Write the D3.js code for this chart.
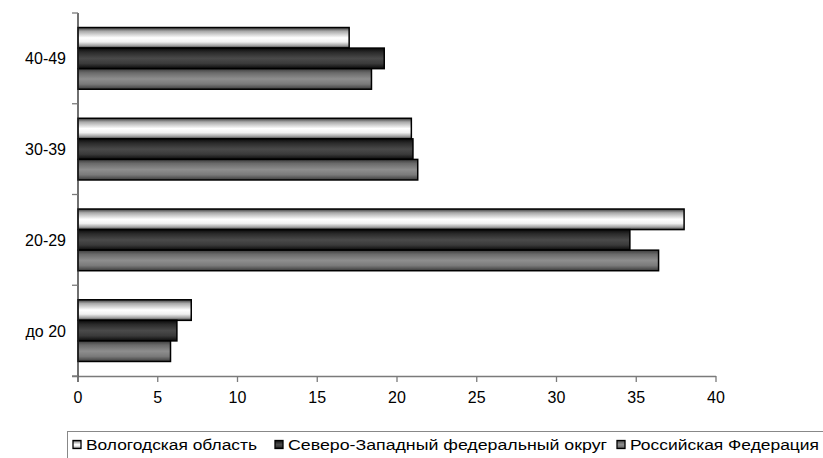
<!DOCTYPE html>
<html><head><meta charset="utf-8">
<script src="https://cdn.jsdelivr.net/npm/d3@7"></script>
<style>body{margin:0;background:#fff}svg{display:block;font-family:"Liberation Sans",Arial,sans-serif}</style>
</head><body><svg id="c" width="823" height="458"></svg>
<script>
const categories = ["до 20", "20-29", "30-39", "40-49"];
const seriesNames = ["Вологодская область", "Северо-Западный федеральный округ", "Российская Федерация"];
const vologda = [7.1, 38.0, 20.9, 17.0];
const northwest = [6.2, 34.6, 21.0, 19.2];
const russia = [5.8, 36.4, 21.3, 18.4];
const xTicks = [0, 5, 10, 15, 20, 25, 30, 35, 40];

const seriesValues = [vologda, northwest, russia];
const svg = d3.select("#c");
const defs = svg.append("defs");
const gradStops = [
  [[0,"#3a3a3a"],[0.18,"#a8a8a8"],[0.5,"#ffffff"],[0.7,"#f0f0f0"],[0.88,"#a0a0a0"],[1,"#3a3a3a"]],
  [[0,"#0a0a0a"],[0.2,"#2a2a2a"],[0.5,"#4a4a4a"],[0.75,"#3a3a3a"],[1,"#0a0a0a"]],
  [[0,"#3c3c3c"],[0.2,"#6a6a6a"],[0.5,"#8e8e8e"],[0.75,"#7a7a7a"],[1,"#3c3c3c"]]
];
gradStops.forEach((st,i)=>{
  const g = defs.append("linearGradient").attr("id","g"+i).attr("x1",0).attr("y1",0).attr("x2",0).attr("y2",1);
  st.forEach(s=>g.append("stop").attr("offset",s[0]).attr("stop-color",s[1]));
});

const x = d3.scaleLinear().domain([0,40]).range([78,716]);
const y = d3.scaleBand().domain(categories.slice().reverse()).range([13,376]).paddingInner(0.32).paddingOuter(0.16);
const ys = d3.scaleBand().domain(d3.range(3)).range([0,y.bandwidth()]);
const step = y.step();

// bars
categories.forEach((c,ci)=>{
  seriesValues.forEach((vals,si)=>{
    svg.append("rect")
      .attr("x", x(0)).attr("y", y(c)+ys(si))
      .attr("width", x(vals[ci])-x(0)).attr("height", ys.bandwidth())
      .attr("fill","url(#g"+si+")").attr("stroke","#000").attr("stroke-width",1.5);
  });
});

// axes
const axCol = "#7a7a7a";
svg.append("line").attr("x1",72).attr("x2",x(40)).attr("y1",376.5).attr("y2",376.5).attr("stroke",axCol).attr("stroke-width",1.3);
svg.append("line").attr("x1",x(0)).attr("x2",x(0)).attr("y1",13).attr("y2",382).attr("stroke","#222").attr("stroke-width",1.3);
xTicks.forEach(t=>{
  svg.append("line").attr("x1",x(t)).attr("x2",x(t)).attr("y1",376).attr("y2",382).attr("stroke",axCol).attr("stroke-width",1.3);
  svg.append("text").attr("x",x(t)).attr("y",403).attr("text-anchor","middle").attr("font-size",16).attr("fill","#000").text(t);
});
for(let i=0;i<=categories.length;i++){
  const yy = 13 + i*step;
  svg.append("line").attr("x1",72).attr("x2",78).attr("y1",yy).attr("y2",yy).attr("stroke",axCol).attr("stroke-width",1.3);
}
categories.forEach(c=>{
  svg.append("text").attr("x",66).attr("y",y(c)+y.bandwidth()/2+6).attr("text-anchor","end").attr("font-size",16).attr("fill","#000").text(c);
});

// legend
svg.append("rect").attr("x",67.5).attr("y",431.5).attr("width",760).attr("height",40).attr("fill","none").attr("stroke","#888").attr("stroke-width",1);
const legX = [73, 275, 617];
const legW = [171, 319, 189];
seriesNames.forEach((n,i)=>{
  svg.append("rect").attr("x",legX[i]).attr("y",440.5).attr("width",8).attr("height",8).attr("fill","url(#g"+i+")").attr("stroke","#000").attr("stroke-width",1.3);
  svg.append("text").attr("x",legX[i]+13).attr("y",450).attr("font-size",15.5).attr("fill","#000")
    .attr("textLength",legW[i]).attr("lengthAdjust","spacingAndGlyphs").text(n);
});
</script></body></html>
